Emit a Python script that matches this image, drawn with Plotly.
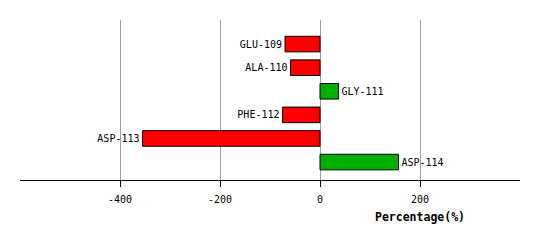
import plotly.graph_objects as go

categories = ["GLU-109", "ALA-110", "GLY-111", "PHE-112", "ASP-113", "ASP-114"]
values = [-70, -59, 37, -75, -355, 157]
tick_vals = [-400, -200, 0, 200]
tick_text = ["-400", "-200", "0", "200"]

colors = ["#ff0000" if v < 0 else "#00b000" for v in values]
font = "DejaVu Sans Mono"

fig = go.Figure()
fig.add_trace(go.Bar(
    y=list(range(len(categories))),
    x=values,
    orientation="h",
    width=0.66,
    marker=dict(color=colors, line=dict(color="black", width=1)),
    text=categories,
    textposition="outside",
    cliponaxis=False,
    constraintext="none",
    textfont=dict(family=font, size=10, color="black"),
    hoverinfo="skip",
))

fig.update_layout(
    width=540, height=240,
    margin=dict(l=20, r=20, t=20, b=60),
    paper_bgcolor="white", plot_bgcolor="white",
    showlegend=False,
    xaxis=dict(
        range=[-600, 400],
        tickvals=tick_vals, ticktext=tick_text,
        showgrid=True, gridcolor="#a0a0a0", gridwidth=1,
        zeroline=False,
        showline=True, linecolor="black", linewidth=1,
        ticks="outside", ticklen=6, tickcolor="black",
        ticklabelstandoff=4,
        tickfont=dict(family=font, size=10, color="black"),
    ),
    yaxis=dict(
        range=[5.76, -1.02],
        showgrid=False, zeroline=False, showline=False,
        showticklabels=False, ticks="",
    ),
    annotations=[dict(
        text="<b>Percentage(%)</b>", x=200, xref="x",
        y=-(216.5 - 180) / 160, yref="paper", yanchor="middle",
        showarrow=False, font=dict(family=font, size=11.5, color="black"),
    )],
)

fig.write_html("out.html")
